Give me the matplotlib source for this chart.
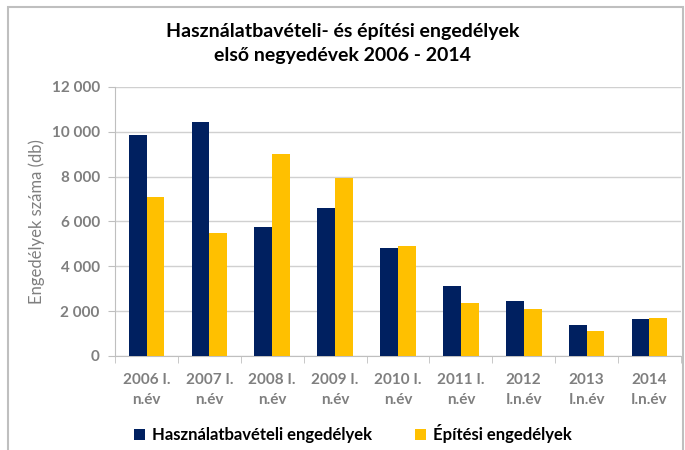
import numpy as np
import matplotlib.pyplot as plt
from matplotlib.patches import Rectangle
from matplotlib.ticker import FuncFormatter

plt.rcParams['font.family'] = ['Lato', 'DejaVu Sans']

categories = ['2006 I.\nn.év', '2007 I.\nn.év', '2008 I.\nn.év', '2009 I.\nn.év',
              '2010 I.\nn.év', '2011 I.\nn.év', '2012\nI.n.év', '2013\nI.n.év', '2014\nI.n.év']
hasznalat = [9870, 10420, 5760, 6610, 4830, 3140, 2430, 1370, 1650]
epitesi = [7100, 5500, 9010, 7940, 4900, 2360, 2110, 1120, 1680]
series_names = ['Használatbavételi engedélyek', 'Építési engedélyek']

navy = '#002060'
gold = '#FFC000'
grey = '#7f7f7f'

fig = plt.figure(figsize=(6.85, 4.5), dpi=100)
ax = fig.add_axes([0.168, 0.209, 0.826, 0.598])

x = np.arange(len(categories))
w = 0.283
ax.bar(x - w / 2, hasznalat, w, color=navy, label=series_names[0], zorder=3)
ax.bar(x + w / 2, epitesi, w, color=gold, label=series_names[1], zorder=3)

ax.set_xlim(-0.5, len(categories) - 0.5)
ax.set_ylim(0, 12000)
ax.set_yticks(np.arange(0, 12001, 2000))
ax.yaxis.set_major_formatter(FuncFormatter(lambda v, p: '{:,.0f}'.format(v).replace(',', ' ')))
ax.grid(axis='y', color='#d0d0d0', linewidth=1, zorder=0)

# category ticks between groups
ax.set_xticks(x)
ax.set_xticklabels(categories)
ax.set_xticks(np.arange(-0.5, len(categories), 1), minor=True)
ax.tick_params(axis='x', which='major', length=0, pad=12)
ax.tick_params(axis='x', which='minor', length=5, color='#bfbfbf')
ax.tick_params(axis='y', length=5, color='#bfbfbf', pad=6)

for lab in ax.get_xticklabels() + ax.get_yticklabels():
    lab.set_color(grey)
    lab.set_fontweight('bold')
    lab.set_fontsize(11)
for lab in ax.get_xticklabels():
    lab.set_linespacing(1.6)

for s in ['top', 'right']:
    ax.spines[s].set_visible(False)
ax.spines['left'].set_color('#bfbfbf')
ax.spines['bottom'].set_color('#bfbfbf')

ax.set_ylabel('Engedélyek száma (db)', color=grey, fontsize=12, labelpad=5)

fig.suptitle('Használatbavételi- és építési engedélyek\nelső negyedévek 2006 - 2014',
             fontsize=14, fontweight='bold', y=0.95, linespacing=1.55)

leg = fig.legend(loc='lower center', bbox_to_anchor=(0.515, -0.018), ncol=2, frameon=False,
                 handlelength=0.65, handleheight=0.65, handletextpad=0.4, columnspacing=2.6,
                 prop={'size': 12, 'weight': 'bold'})

fig.patches.append(Rectangle((0.011, -0.05), 0.986, 1.035, transform=fig.transFigure,
                             fill=False, edgecolor='#bfbfbf', linewidth=1.5))

fig.savefig('out.png', dpi=100)
